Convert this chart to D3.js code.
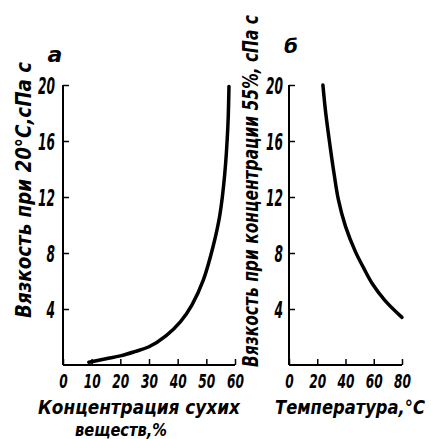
<!DOCTYPE html>
<html>
<head>
<meta charset="utf-8">
<script src="https://cdn.jsdelivr.net/npm/d3@7"></script>
<style>
  html, body { margin: 0; padding: 0; background: #fff; }
  svg { display: block; }
  text { font-family: "DejaVu Sans", sans-serif; font-weight: bold; font-style: italic; fill: #000; }
</style>
</head>
<body>
<svg id="chart" width="431" height="439"></svg>
<script>
// Panel а: viscosity at 20 °C vs. dry-solids concentration
const concPct   = [9, 15, 20, 25, 30, 36, 41, 45, 49, 52.4, 54.7, 56.4, 57.5, 57.9];
const viscConc  = [0.2, 0.45, 0.65, 0.95, 1.3, 2.1, 3.1, 4.3, 6.1, 8.5, 10.7, 13.6, 17.0, 19.9];
const concTicks = [0, 10, 20, 30, 40, 50, 60];

// Panel б: viscosity at 55 % concentration vs. temperature
const tempC     = [24, 26, 29, 32, 35, 40, 47, 53, 59, 68, 80];
const viscTemp  = [20, 18, 15.7, 13.6, 11.8, 9.9, 8.1, 6.9, 5.8, 4.6, 3.4];
const tempTicks = [0, 20, 40, 60, 80];

const viscTicks = [4, 8, 12, 16, 20];

const svg = d3.select("#chart");

const yTop = 85, yBottom = 365;

function panel(opts) {
  const x = d3.scaleLinear().domain(opts.xDomain).range(opts.xRange);
  const y = d3.scaleLinear().domain([0, 20]).range([yBottom, yTop]);
  const g = svg.append("g");

  // y axis, ticks pointing inward
  const ya = g.append("g")
    .attr("transform", `translate(${opts.xRange[0]},0)`)
    .call(d3.axisLeft(y).tickValues(viscTicks).tickSizeInner(-6).tickSizeOuter(0).tickPadding(opts.yPad));
  ya.select(".domain").attr("stroke-width", 2).attr("d", `M0,${yBottom}V${yTop}`);
  ya.selectAll(".tick line").attr("stroke-width", 1.5);
  ya.selectAll(".tick text")
    .attr("font-size", 23).attr("font-family", null)
    .attr("textLength", d => String(d).length * 8.5)
    .attr("lengthAdjust", "spacingAndGlyphs")
    .attr("dy", "0.36em");

  // x axis, ticks pointing inward
  const xa = g.append("g")
    .attr("transform", `translate(0,${yBottom})`)
    .call(d3.axisBottom(x).tickValues(opts.xTicks).tickSizeInner(-6).tickSizeOuter(0).tickPadding(8));
  xa.select(".domain").attr("stroke-width", 2).attr("d", `M${opts.xRange[0]},0H${opts.xRange[1]}`);
  xa.selectAll(".tick line").attr("stroke-width", 1.5);
  xa.selectAll(".tick text")
    .attr("font-size", 20).attr("font-family", null)
    .attr("textLength", d => String(d).length * 8.5)
    .attr("lengthAdjust", "spacingAndGlyphs")
    .attr("dy", "0.75em");

  // curve
  const line = d3.line()
    .x(d => x(d[0])).y(d => y(d[1]))
    .curve(d3.curveCatmullRom.alpha(0.5));
  g.append("path")
    .datum(d3.zip(opts.xs, opts.ys))
    .attr("fill", "none").attr("stroke", "#000")
    .attr("stroke-width", 3.5).attr("stroke-linecap", "round")
    .attr("d", line);

  return { x, y };
}

panel({ xDomain: [0, 60], xRange: [63, 235], xTicks: concTicks, xs: concPct, ys: viscConc, yPad: 8 });
panel({ xDomain: [0, 80], xRange: [289, 402], xTicks: tempTicks, xs: tempC, ys: viscTemp, yPad: 6 });

// panel letters
svg.append("text").attr("x", 55).attr("y", 62).attr("text-anchor", "middle")
  .attr("font-size", 22).text("а");
svg.append("text").attr("x", 291).attr("y", 53).attr("text-anchor", "middle")
  .attr("font-size", 20).text("б");

// y-axis titles
svg.append("text")
  .attr("transform", "translate(31,190) rotate(-90)")
  .attr("text-anchor", "middle").attr("font-size", 22)
  .attr("textLength", 256).attr("lengthAdjust", "spacingAndGlyphs")
  .text("Вязкость при 20°С,сПа с");
svg.append("text")
  .attr("transform", "translate(258,191) rotate(-90)")
  .attr("text-anchor", "middle").attr("font-size", 21)
  .attr("textLength", 352).attr("lengthAdjust", "spacingAndGlyphs")
  .text("Вязкость при концентрации 55%, сПа с");

// x-axis titles
svg.append("text").attr("x", 139).attr("y", 414).attr("text-anchor", "middle")
  .attr("font-size", 19).attr("textLength", 202).attr("lengthAdjust", "spacingAndGlyphs")
  .text("Концентрация сухих");
svg.append("text").attr("x", 121).attr("y", 435.5).attr("text-anchor", "middle")
  .attr("font-size", 17.5).attr("textLength", 92).attr("lengthAdjust", "spacingAndGlyphs")
  .text("веществ,%");
svg.append("text").attr("x", 350).attr("y", 414).attr("text-anchor", "middle")
  .attr("font-size", 19).attr("textLength", 150).attr("lengthAdjust", "spacingAndGlyphs")
  .text("Температура,°С");
</script>
</body>
</html>
